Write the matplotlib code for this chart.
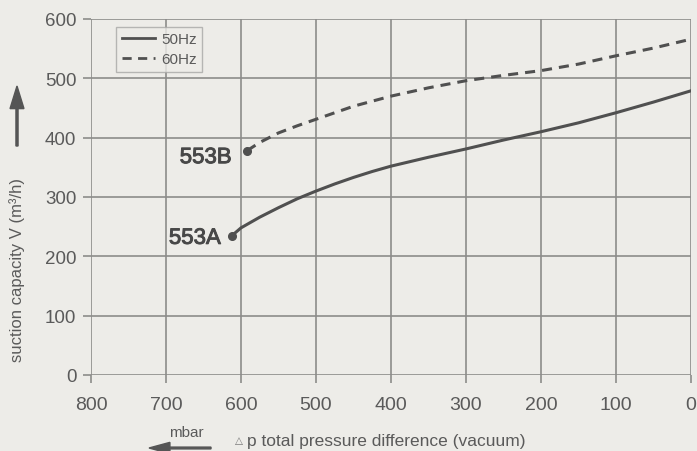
import numpy as np
import matplotlib
matplotlib.use("Agg")
import matplotlib.pyplot as plt
import matplotlib.patheffects as pe

plt.rcParams['font.family'] = ['Liberation Sans', 'DejaVu Sans']

# pressure difference (mbar) and suction capacity (m3/h)
p_50 = [612, 600, 575, 550, 525, 500, 475, 450, 425, 400, 350, 300, 250, 200, 150, 100, 50, 0]
v_50 = [235, 248, 266, 282, 297, 310, 322, 333, 343, 352, 367, 381, 396, 410, 425, 442, 460, 479]
p_60 = [592, 575, 550, 525, 500, 450, 400, 350, 300, 250, 200, 150, 100, 50, 0]
v_60 = [378, 392, 408, 420, 431, 453, 470, 484, 496, 505, 513, 524, 538, 551, 566]

xticks = [800, 700, 600, 500, 400, 300, 200, 100, 0]
yticks = [0, 100, 200, 300, 400, 500, 600]

bg = '#edece8'
gridc = '#8c8c8a'
linec = '#505050'
textc = '#5a5a5a'

fig = plt.figure(figsize=(6.97, 4.52), dpi=100, facecolor=bg)
ax = fig.add_axes([91/697, 1-376/452, 600/697, 356/452])
ax.set_facecolor(bg)

ax.plot(p_50, v_50, color=linec, lw=2.2, label='50Hz')
ax.plot(p_60, v_60, color=linec, lw=2.2, ls=(0, (3.3, 2.3)), label='60Hz')
ax.plot(p_50[0], v_50[0], 'o', color=linec, ms=5.5)
ax.plot(p_60[0], v_60[0], 'o', color=linec, ms=5.5)
bold_ish = [pe.withStroke(linewidth=0.7, foreground='#484848')]
ax.annotate('553A', (p_50[0], v_50[0]), xytext=(-8, -2), textcoords='offset points',
            fontsize=16, color='#484848', ha='right', va='center', path_effects=bold_ish)
ax.annotate('553B', (p_60[0], v_60[0]), xytext=(-11, -5), textcoords='offset points',
            fontsize=16, color='#484848', ha='right', va='center', path_effects=bold_ish)

ax.set_xlim(800, 0)
ax.set_ylim(0, 600)
ax.set_xticks(xticks)
ax.set_yticks(yticks)
ax.grid(True, color=gridc, lw=1.2)
for s in ax.spines.values():
    s.set_visible(False)
ax.tick_params(length=6, width=1.2, color=gridc, labelcolor=textc)
ax.tick_params(axis='y', labelsize=13.5, pad=4.5)
ax.tick_params(axis='x', labelsize=14, pad=9)

leg = ax.legend(loc='upper left', bbox_to_anchor=(0.042, 0.978), borderaxespad=0,
                fontsize=11, frameon=True, facecolor=bg, edgecolor='#a8a8a6',
                fancybox=False, handlelength=2.2, handletextpad=0.4,
                labelcolor=textc, borderpad=0.35, labelspacing=0.4)
leg.get_frame().set_linewidth(1.0)
for h in leg.get_lines():
    h.set_linewidth(2.0)

fig.text(17/697, 1-270/452, 'suction capacity V (m³/h)', rotation=90, fontsize=12,
         color=textc, ha='center', va='center')
fig.patches.append(matplotlib.patches.FancyArrow(17/697, 1-147/452, 0, 60/452, width=0.003,
                   head_width=0.02, head_length=0.05, length_includes_head=True,
                   color='#555555', transform=fig.transFigure))
fig.text(186/697, 1-440/452, 'mbar', fontsize=11, color=textc, ha='center', va='bottom')
fig.patches.append(matplotlib.patches.FancyArrow(211/697, 1-449/452, -62/697, 0, width=0.004,
                   head_width=0.025, head_length=0.03, length_includes_head=True,
                   color='#555555', transform=fig.transFigure))
fig.text(235/697, 1-441/452, '△', fontsize=7.5, color='#777777', ha='left', va='center',
         family=['DejaVu Sans'])
fig.text(247/697, 1-442/452, 'p total pressure difference (vacuum)', fontsize=12.5,
         color=textc, ha='left', va='center')

fig.savefig('out.png', dpi=100, facecolor=bg)
